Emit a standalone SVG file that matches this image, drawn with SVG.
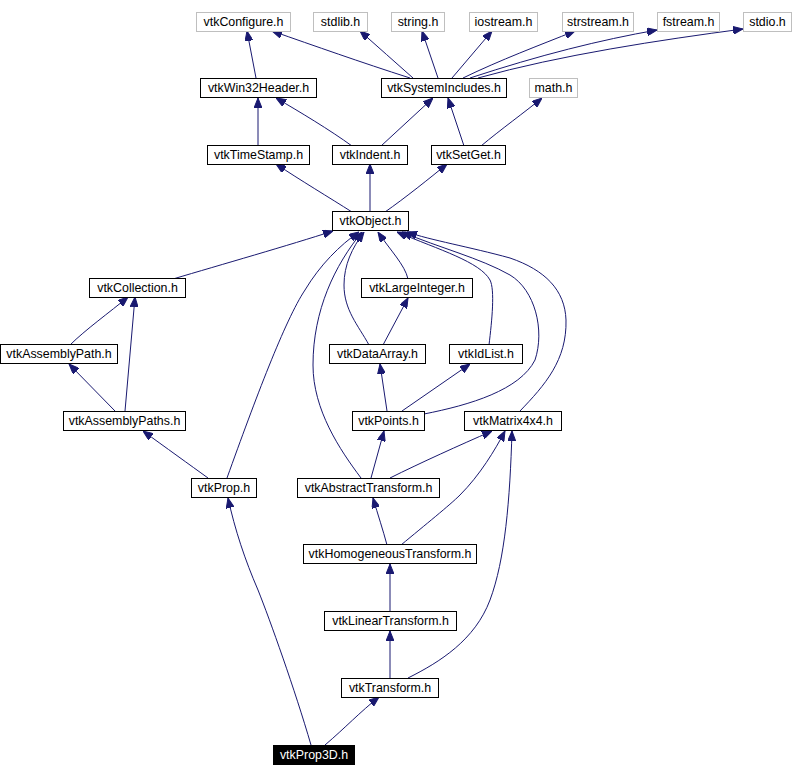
<svg xmlns="http://www.w3.org/2000/svg" width="793" height="776" viewBox="0 0 793 776">
<style>
.n rect{fill:#fff;stroke:#000;stroke-width:1}
.g rect{fill:#fff;stroke:#bfbfbf;stroke-width:1}
.n text,.g text{font-family:"Liberation Sans",Arial,sans-serif;font-size:12.4px;fill:#000;text-anchor:middle}
.r rect{fill:#000;stroke:#000}
.r text{font-family:"Liberation Sans",Arial,sans-serif;font-size:12.4px;fill:#fff;text-anchor:middle}
#edges path{fill:none;stroke:#191970;stroke-width:1;marker-end:url(#a)}
</style>
<defs>
<marker id="a" viewBox="0 0 10 8" refX="10" refY="4" markerWidth="10" markerHeight="8" orient="auto" markerUnits="userSpaceOnUse">
<path d="M0,0 L10,4 L0,8 z" fill="#191970" stroke="#191970"/>
</marker>
</defs>
<rect width="793" height="776" fill="#fff"/>
<g id="edges">
<path d="M256,78 L247,31"/>
<path d="M410,78 C360,62 315,46 272,31"/>
<path d="M413,78 C395,62 378,47 360,31"/>
<path d="M438,78 L422,31"/>
<path d="M452,78 L492,31"/>
<path d="M463,78 C500,60 540,45 575,31"/>
<path d="M470,78 C540,55 600,40 657,30"/>
<path d="M478,78 C560,55 660,40 743,29"/>
<path d="M258,146 L258,98"/>
<path d="M352,146 C330,130 300,112 276,98"/>
<path d="M381,146 L433,98"/>
<path d="M464,146 L448,98"/>
<path d="M481,146 C500,130 525,112 542,98"/>
<path d="M352,212 C330,198 300,180 276,164"/>
<path d="M370,212 L370,164"/>
<path d="M385,212 C405,198 430,178 447,164"/>
<path d="M173,279 C220,265 290,245 333,231"/>
<path d="M70,345 C85,330 110,312 128,297"/>
<path d="M125,411 L135,297"/>
<path d="M115,411 L69,364"/>
<path d="M208,478 C190,465 165,447 143,431"/>
<path d="M227,478 C255,400 285,320 305,290 C320,265 340,245 359,232"/>
<path d="M361,478 C340,450 313,410 313,365 C313,310 335,265 362,232"/>
<path d="M369,345 C358,325 344,310 344,285 C344,265 352,248 364,232"/>
<path d="M408,279 C405,265 390,250 378,232"/>
<path d="M383,345 L408,298"/>
<path d="M489,345 C492,320 495,290 490,280 C480,262 440,250 397,232"/>
<path d="M424,414 C470,405 520,390 535,360 C545,330 535,290 510,275 C480,258 440,248 402,232"/>
<path d="M520,411 C545,385 567,360 566,320 C565,290 545,270 510,258 C470,247 430,240 407,232"/>
<path d="M387,411 L380,364"/>
<path d="M402,411 L470,364"/>
<path d="M371,478 L384,431"/>
<path d="M390,478 C420,463 460,445 492,431"/>
<path d="M387,545 C383,530 378,515 373,498"/>
<path d="M401,545 C425,525 450,505 460,495 C480,475 495,450 505,431"/>
<path d="M390,611 L390,564"/>
<path d="M390,678 L390,631"/>
<path d="M408,678 C440,662 475,640 490,600 C505,560 510,500 512,431"/>
<path d="M325,745 C345,728 360,712 379,697"/>
<path d="M311,745 C295,690 270,620 258,590 C245,560 235,530 228,498"/>
</g>
<g id="vtkConfigure" class="g"><rect x="196.5" y="12.5" width="94" height="19"/><text x="243.5" y="26">vtkConfigure.h</text></g>
<g id="stdlib" class="g"><rect x="313.5" y="12.5" width="54" height="19"/><text x="340.5" y="26">stdlib.h</text></g>
<g id="string" class="g"><rect x="391.5" y="12.5" width="53" height="19"/><text x="418" y="26">string.h</text></g>
<g id="iostream" class="g"><rect x="469.5" y="12.5" width="68" height="19"/><text x="503.5" y="26">iostream.h</text></g>
<g id="strstream" class="g"><rect x="562.5" y="12.5" width="71" height="19"/><text x="598" y="26">strstream.h</text></g>
<g id="fstream" class="g"><rect x="657.5" y="12.5" width="62" height="19"/><text x="688.5" y="26">fstream.h</text></g>
<g id="stdio" class="g"><rect x="743.5" y="12.5" width="48" height="19"/><text x="767.5" y="26">stdio.h</text></g>
<g id="vtkWin32Header" class="n"><rect x="200.5" y="78.5" width="116" height="19"/><text x="258.5" y="92">vtkWin32Header.h</text></g>
<g id="vtkSystemIncludes" class="n"><rect x="381.5" y="78.5" width="125" height="19"/><text x="444" y="92">vtkSystemIncludes.h</text></g>
<g id="math" class="g"><rect x="529.5" y="78.5" width="48" height="19"/><text x="553.5" y="92">math.h</text></g>
<g id="vtkTimeStamp" class="n"><rect x="207.5" y="145.5" width="102" height="19"/><text x="258.5" y="159">vtkTimeStamp.h</text></g>
<g id="vtkIndent" class="n"><rect x="332.5" y="145.5" width="75" height="19"/><text x="370" y="159">vtkIndent.h</text></g>
<g id="vtkSetGet" class="n"><rect x="431.5" y="145.5" width="74" height="19"/><text x="468.5" y="159">vtkSetGet.h</text></g>
<g id="vtkObject" class="n"><rect x="332.5" y="211.5" width="76" height="19"/><text x="370.5" y="225">vtkObject.h</text></g>
<g id="vtkCollection" class="n"><rect x="89.5" y="278.5" width="96" height="19"/><text x="137.5" y="292">vtkCollection.h</text></g>
<g id="vtkLargeInteger" class="n"><rect x="361.5" y="278.5" width="111" height="19"/><text x="417" y="292">vtkLargeInteger.h</text></g>
<g id="vtkAssemblyPath" class="n"><rect x="0.5" y="344.5" width="117" height="19"/><text x="59" y="358">vtkAssemblyPath.h</text></g>
<g id="vtkDataArray" class="n"><rect x="329.5" y="344.5" width="96" height="19"/><text x="377.5" y="358">vtkDataArray.h</text></g>
<g id="vtkIdList" class="n"><rect x="449.5" y="344.5" width="73" height="19"/><text x="486" y="358">vtkIdList.h</text></g>
<g id="vtkAssemblyPaths" class="n"><rect x="63.5" y="411.5" width="122" height="19"/><text x="124.5" y="425">vtkAssemblyPaths.h</text></g>
<g id="vtkPoints" class="n"><rect x="352.5" y="411.5" width="72" height="19"/><text x="388.5" y="425">vtkPoints.h</text></g>
<g id="vtkMatrix4x4" class="n"><rect x="464.5" y="411.5" width="97" height="19"/><text x="513" y="425">vtkMatrix4x4.h</text></g>
<g id="vtkProp" class="n"><rect x="191.5" y="478.5" width="65" height="19"/><text x="224" y="492">vtkProp.h</text></g>
<g id="vtkAbstractTransform" class="n"><rect x="297.5" y="478.5" width="142" height="19"/><text x="368.5" y="492">vtkAbstractTransform.h</text></g>
<g id="vtkHomogeneousTransform" class="n"><rect x="303.5" y="544.5" width="173" height="19"/><text x="390" y="558">vtkHomogeneousTransform.h</text></g>
<g id="vtkLinearTransform" class="n"><rect x="324.5" y="611.5" width="132" height="19"/><text x="390.5" y="625">vtkLinearTransform.h</text></g>
<g id="vtkTransform" class="n"><rect x="341.5" y="678.5" width="97" height="19"/><text x="390" y="692">vtkTransform.h</text></g>
<g id="vtkProp3D" class="r"><rect x="273.5" y="745.5" width="81" height="19"/><text x="314" y="759">vtkProp3D.h</text></g>
</svg>
